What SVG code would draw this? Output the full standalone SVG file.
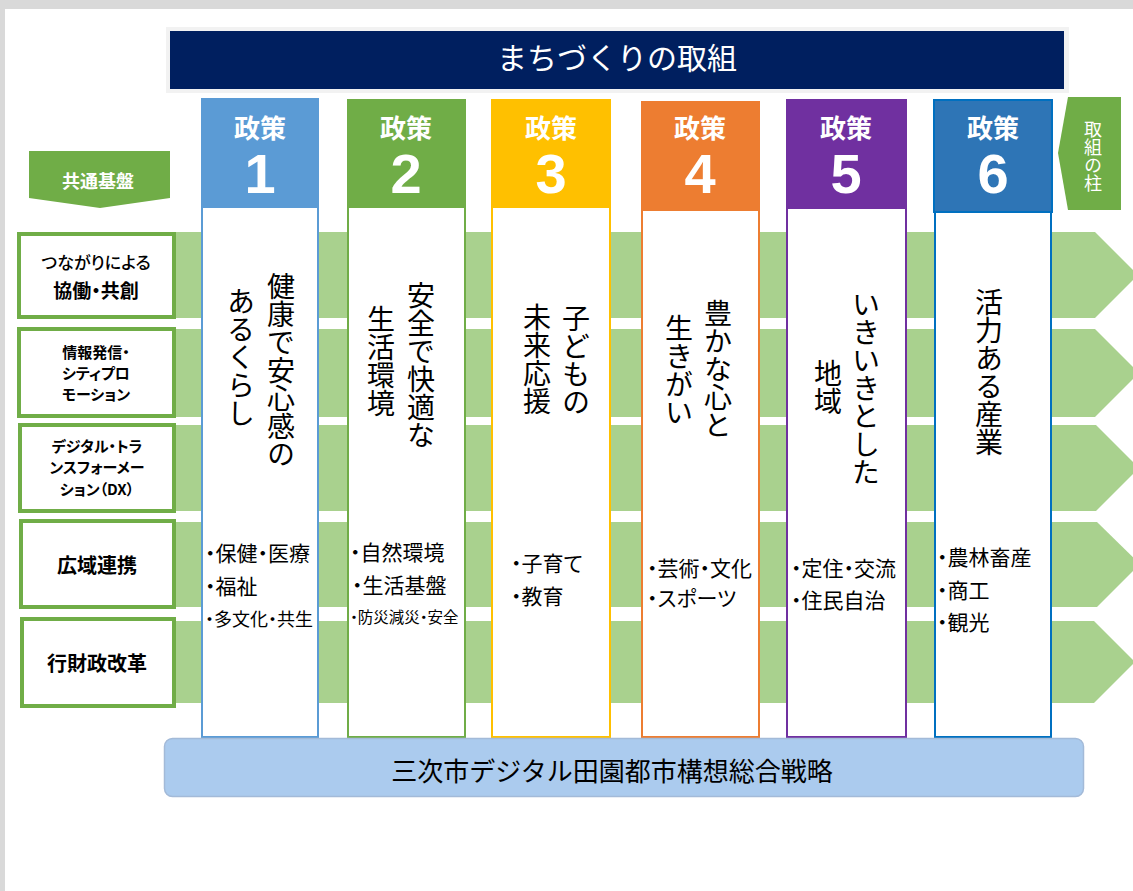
<svg xmlns="http://www.w3.org/2000/svg" width="1133" height="891" viewBox="0 0 1133 891">
<style>
.jp{font-family:"Noto Sans CJK JP","Noto Sans",sans-serif;}
.vt{font-family:"Noto Sans CJK JP",sans-serif;font-size:28px;fill:#000;writing-mode:vertical-rl;}
.hd{font-family:"Noto Sans CJK JP",sans-serif;font-size:26px;font-weight:700;fill:#fff;text-anchor:middle;}
.num{font-family:"Liberation Sans",Arial,sans-serif;font-size:56px;font-weight:700;fill:#fff;text-anchor:middle;}
.bl{font-family:"Noto Sans CJK JP",sans-serif;font-size:21px;fill:#000;font-feature-settings:"palt";}
.lbox{fill:#fff;stroke:#70ad47;stroke-width:4;}
.lt{font-family:"Noto Sans CJK JP",sans-serif;fill:#000;text-anchor:middle;font-feature-settings:"palt";}
.band{fill:#a9d18e;}
</style>
<rect x="0" y="0" width="1133" height="891" fill="#fff"/>
<rect x="0" y="0" width="1133" height="9" fill="#d9d9d9"/>
<rect x="0" y="0" width="5" height="891" fill="#d9d9d9"/>

<g id="title">
<rect x="166" y="27" width="903" height="66" fill="#f2f2f2"/>
<rect x="170" y="31" width="894" height="58" fill="#001f5f"/>
<text class="jp" x="617" y="69" font-size="30" fill="#fff" text-anchor="middle">まちづくりの取組</text>
</g>

<g id="kiban-label">
<polygon points="29,151 170,151 170,198 100,208 29,198" fill="#70ad47"/>
<text class="jp" x="98" y="188" font-size="18" font-weight="700" fill="#fff" text-anchor="middle">共通基盤</text>
</g>

<g id="hashira-label">
<polygon points="1068,97 1121,97 1121,210 1068,210 1058,153" fill="#70ad47"/>
<text class="jp" x="1093" y="120" font-size="18" fill="#fff" style="writing-mode:vertical-rl">取組の柱</text>
</g>

<g id="connectors">
<polygon class="band" points="20,232 1095,232 1138,275 1095,318 20,318"/>
<polygon class="band" points="20,329 1095,329 1139,373 1095,417 20,417"/>
<polygon class="band" points="20,425 1096,425 1139,468 1096,511 20,511"/>
<polygon class="band" points="20,522 1097,522 1140,564 1097,607 20,607"/>
<polygon class="band" points="20,621 1094,621 1135,662 1094,703 20,703"/>
</g>

<g id="kiban-1">
<rect class="lbox" x="19" y="234" width="155" height="83"/>
<text class="lt" x="96" y="269" font-size="17" font-weight="500">つながりによる</text>
<text class="lt" x="96" y="298" font-size="19" font-weight="700">協働・共創</text>
</g>
<g id="kiban-2">
<rect class="lbox" x="19" y="329" width="155" height="87"/>
<text class="lt" x="96" y="358" font-size="15" font-weight="700">情報発信・</text>
<text class="lt" x="96" y="379" font-size="15" font-weight="700">シティプロ</text>
<text class="lt" x="96" y="400" font-size="15" font-weight="700">モーション</text>
</g>
<g id="kiban-3">
<rect class="lbox" x="20" y="425" width="154" height="86"/>
<text class="lt" x="97" y="452" font-size="15" font-weight="700">デジタル・トラ</text>
<text class="lt" x="97" y="473" font-size="15" font-weight="700">ンスフォーメー</text>
<text class="lt" x="97" y="495" font-size="15" font-weight="700">ション（DX）</text>
</g>
<g id="kiban-4">
<rect class="lbox" x="21" y="521" width="153" height="86"/>
<text class="lt" x="97" y="573" font-size="20" font-weight="700">広域連携</text>
</g>
<g id="kiban-5">
<rect class="lbox" x="22" y="619" width="152" height="87"/>
<text class="lt" x="97" y="671" font-size="20" font-weight="700">行財政改革</text>
</g>

<g id="policy-1">
<rect x="202" y="99" width="116" height="638" fill="#fff" stroke="#5b9bd5" stroke-width="2"/>
<rect x="201" y="98" width="118" height="110" fill="#5b9bd5"/>
<text class="hd" x="260" y="138">政策</text>
<text class="num" x="260" y="193">1</text>
<text class="vt" x="281" y="272">健康で安心感の</text>
<text class="vt" x="241" y="287">あるくらし</text>
<text class="bl" x="205" y="561">・保健・医療</text>
<text class="bl" x="205" y="594">・福祉</text>
<text class="bl" x="205" y="626" style="font-size:18px">・多文化・共生</text>
</g>

<g id="policy-2">
<rect x="348" y="100" width="117" height="637" fill="#fff" stroke="#70ad47" stroke-width="2"/>
<rect x="347" y="99" width="119" height="109" fill="#70ad47"/>
<text class="hd" x="406" y="138">政策</text>
<text class="num" x="406" y="193">2</text>
<text class="vt" x="421" y="281">安全で快適な</text>
<text class="vt" x="381" y="305">生活環境</text>
<text class="bl" x="350" y="560">・自然環境</text>
<text class="bl" x="352" y="593">・生活基盤</text>
<text class="bl" x="350" y="623" style="font-size:15.5px">・防災減災・安全</text>
</g>

<g id="policy-3">
<rect x="492" y="100" width="118" height="637" fill="#fff" stroke="#ffc000" stroke-width="2"/>
<rect x="491" y="99" width="120" height="109" fill="#ffc000"/>
<text class="hd" x="551" y="138">政策</text>
<text class="num" x="551" y="193">3</text>
<text class="vt" x="576" y="304">子どもの</text>
<text class="vt" x="537" y="303">未来応援</text>
<text class="bl" x="511" y="571">・子育て</text>
<text class="bl" x="511" y="604">・教育</text>
</g>

<g id="policy-4">
<rect x="642" y="102" width="117" height="635" fill="#fff" stroke="#ed7d31" stroke-width="2"/>
<rect x="641" y="101" width="119" height="110" fill="#ed7d31"/>
<text class="hd" x="700" y="138">政策</text>
<text class="num" x="700" y="193">4</text>
<text class="vt" x="718" y="299">豊かな心と</text>
<text class="vt" x="679" y="314">生きがい</text>
<text class="bl" x="647" y="576">・芸術・文化</text>
<text class="bl" x="647" y="606">・スポーツ</text>
</g>

<g id="policy-5">
<rect x="787" y="100" width="119" height="637" fill="#fff" stroke="#7030a0" stroke-width="2"/>
<rect x="786" y="99" width="121" height="110" fill="#7030a0"/>
<text class="hd" x="846" y="138">政策</text>
<text class="num" x="846" y="193">5</text>
<text class="vt" x="866" y="290">いきいきとした</text>
<text class="vt" x="828" y="359">地域</text>
<text class="bl" x="791" y="576">・定住・交流</text>
<text class="bl" x="791" y="608">・住民自治</text>
</g>

<g id="policy-6">
<rect x="935" y="101" width="116" height="636" fill="#fff" stroke="#0070c0" stroke-width="2"/>
<rect x="934" y="100" width="118" height="112" fill="#2e75b6" stroke="#0070c0" stroke-width="2"/>
<text class="hd" x="993" y="138">政策</text>
<text class="num" x="993" y="193">6</text>
<text class="vt" x="989" y="288">活力ある産業</text>
<text class="bl" x="937" y="565">・農林畜産</text>
<text class="bl" x="937" y="598">・商工</text>
<text class="bl" x="937" y="630">・観光</text>
</g>

<g id="strategy">
<rect x="164.5" y="738.5" width="919" height="58" rx="8" fill="#abcbee" stroke="#a3bad8" stroke-width="1.5"/>
<text class="jp" x="612" y="781" font-size="26" fill="#000" text-anchor="middle">三次市デジタル田園都市構想総合戦略</text>
</g>
</svg>
